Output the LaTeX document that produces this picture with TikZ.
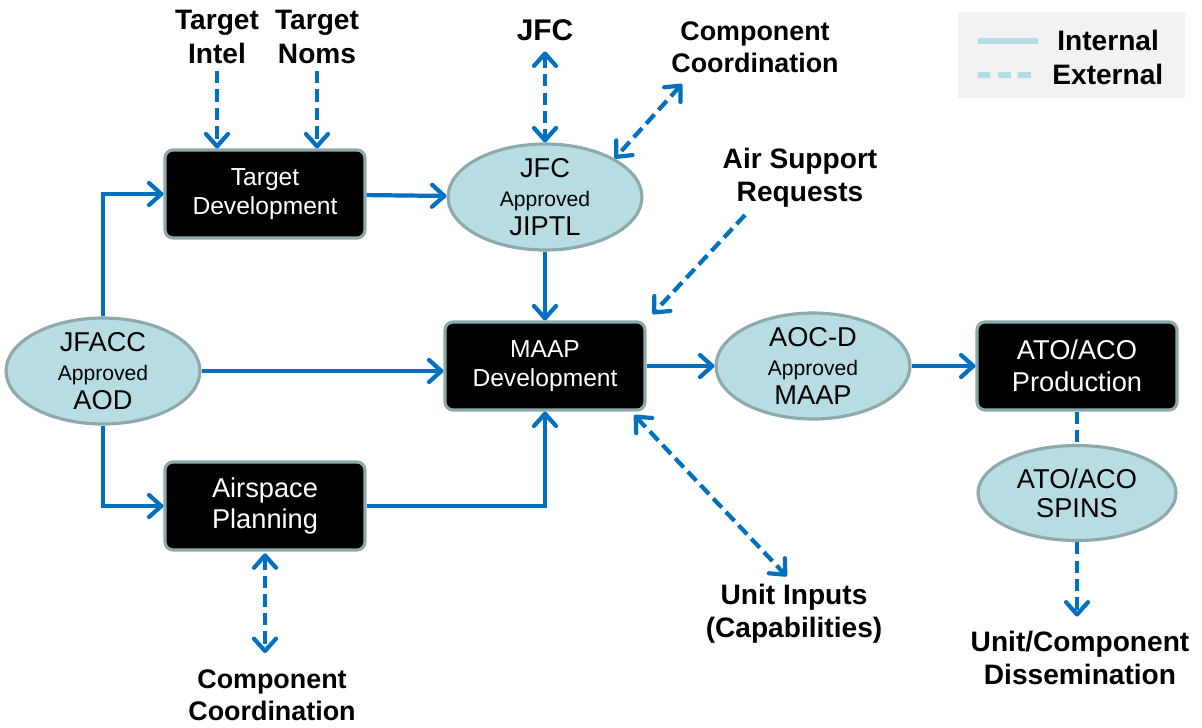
\documentclass[tikz,border=0pt]{standalone}
\usepackage{fontspec}
\setmainfont{Liberation Sans}
\usetikzlibrary{arrows.meta,shapes.geometric}

\definecolor{flowblue}{HTML}{0070C0}
\definecolor{rimgray}{HTML}{8EA9AB}
\definecolor{prodcyan}{HTML}{B7DDE2}
\definecolor{legcyan}{HTML}{B4DCE4}
\definecolor{leggray}{HTML}{F2F2F2}

\tikzset{
  >={Straight Barb[length=7pt,width=12.5pt,round]},
  flow/.style={draw=flowblue, line width=2.4pt, ->},
  extflow/.style={flow, dash pattern=on 7pt off 3.5pt},
  task/.style={rectangle, rounded corners=4.5pt, fill=black, draw=rimgray,
    line width=1.8pt, text=white, minimum width=4cm, minimum height=1.76cm,
    align=center, font=\fontsize{14}{16.5}\selectfont},
  product/.style={ellipse, fill=prodcyan, draw=rimgray, line width=1.8pt,
    minimum width=3.88cm, minimum height=2.12cm, inner xsep=0pt, inner ysep=-4pt,
    align=center, font=\fontsize{15.5}{16.5}\selectfont},
  source/.style={align=center, inner sep=0pt, font=\bfseries\fontsize{16}{19}\selectfont},
  legline/.style={draw=legcyan, line width=3.2pt},
}
\newcommand{\apprline}{{\fontsize{12}{16.5}\selectfont Approved}}

\begin{document}
\begin{tikzpicture}[x=0.02cm, y=-0.02cm]
    \useasboundingbox (0,0) rectangle (1202,727);

    % legend
    \fill[leggray] (958,12) rectangle (1185,98);
    \node[source, anchor=west] (internal) at (1057,40) {Internal};
    \node[source, anchor=west] (external) at (1052,74) {External};
    \draw[legline] (978,41) -- (1038,41);
    \draw[legline, dash pattern=on 7pt off 4.5pt] (978,75) -- (1038,75);

    \node[task] (tdev) at (265,194) {Target\\Development};
    \node[task, font=\fontsize{15.5}{18}\selectfont] (aplan) at (265,506) {Airspace\\Planning};
    \node[task] (mdev) at (545,366) {MAAP\\Development};
    \node[task, font=\fontsize{15.5}{18}\selectfont] (atoprod) at (1077,366) {ATO/ACO\\Production};

    \node[product] (aod) at (103,371) {JFACC\\\apprline\\AOD};
    \node[product] (jiptl) at (545,197) {JFC\\\apprline\\JIPTL};
    \node[product] (maap) at (813,366) {AOC-D\\\apprline\\MAAP};
    \node[product, minimum width=3.96cm, minimum height=1.9cm] (spins) at (1077,493) {ATO/ACO\\SPINS};

    \node[source] (intel) at (217,37) {Target\\Intel};
    \node[source] (noms) at (317,37) {Target\\Noms};
    \node[source, font=\bfseries\fontsize{17}{19}\selectfont] (jfc) at (545,30) {JFC};
    \node[source, font=\bfseries\fontsize{15.3}{18.5}\selectfont] (cctop) at (755,47) {Component\\Coordination};
    \node[source] (asr) at (800,178) {Air Support\\Requests};
    \node[source] (uin) at (794,614) {Unit Inputs\\(Capabilities)};
    \node[source, font=\bfseries\fontsize{15.3}{18.5}\selectfont] (ccbot) at (272,695) {Component\\Coordination};
    \node[source] (dissem) at (1080,658) {Unit/Component\\Dissemination};

    \coordinate (cctail) at (682,84);
    \coordinate (asrtail) at (745,215);

    % internal flow
    \draw[flow] (aod.north) |- (tdev.west);
    \draw[flow] (aod.south) |- (aplan.west);
    \draw[flow] (aod.east) -- (aod.east -| mdev.west);
    \draw[flow] (tdev) -- (jiptl);
    \draw[flow] (jiptl) -- (mdev);
    \draw[flow] (aplan.east) -| (mdev.south);
    \draw[flow] (mdev) -- (maap);
    \draw[flow] (maap) -- (atoprod);

    % external inputs
    \draw[extflow, shorten <=4pt] (intel.south) -- (tdev.north -| intel.south);
    \draw[extflow, shorten <=4pt] (noms.south) -- (tdev.north -| noms.south);
    \draw[extflow, <->, shorten <=6pt] (jfc.south) -- (jiptl.north);
    \draw[extflow, <->] (cctail) -- (jiptl.north east);
    \draw[extflow, shorten >=5pt] (asrtail) -- (mdev.north east);
    \draw[extflow, <->, shorten >=6pt] ([xshift=-7pt,yshift=-2pt]mdev.south east) -- (uin.north);
    \draw[extflow, <->, shorten >=9pt, shorten <=1pt] (aplan.south) -- (aplan.south |- ccbot.north);
    \draw[extflow, -] (atoprod) -- (spins);
    \draw[extflow, shorten >=8pt] (spins.south) -- (spins.south |- dissem.north);

\end{tikzpicture}
\end{document}
